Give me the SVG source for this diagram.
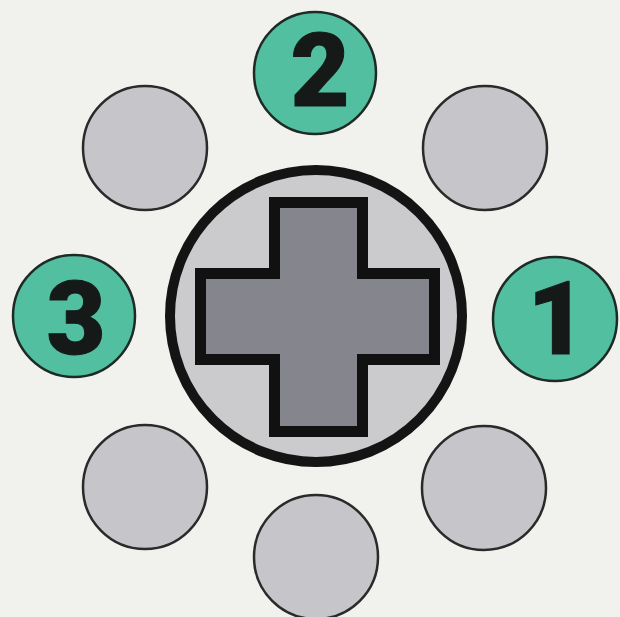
<svg xmlns="http://www.w3.org/2000/svg" width="620" height="617" viewBox="0 0 620 617">
<style>
.bg{fill:#f1f1ed}
.small{fill:#c6c6ca;stroke:#2a2a2a;stroke-width:2.5}
.num{fill:#52c0a0;stroke:#1e2a26;stroke-width:2.5}
.digit{font-family:Roboto,"Liberation Sans",Arial,sans-serif;font-weight:900;font-size:102px;fill:#151a18;stroke:#151a18;stroke-width:1;stroke-linejoin:round;text-anchor:middle}
</style>
<rect class="bg" x="0" y="0" width="620" height="617"/>
<g id="pad">
<circle cx="316" cy="316" r="146" fill="#cbcbcd" stroke="#141414" stroke-width="10"/>
<path d="M274.5,202.5 H362.5 V273.5 H434.5 V359.5 H362.5 V431.5 H274.5 V359.5 H200.5 V273.5 H274.5 Z" fill="#85858e" stroke="#111" stroke-width="11" stroke-linejoin="miter"/>
</g>
<g id="btn-2">
<circle class="num" cx="315" cy="73" r="61"/>
<text class="digit" x="320" y="106">2</text>
</g>
<g id="btn-tl"><circle class="small" cx="145" cy="148" r="62"/></g>
<g id="btn-tr"><circle class="small" cx="485" cy="148" r="62"/></g>
<g id="btn-3">
<circle class="num" cx="74" cy="316" r="61"/>
<text class="digit" x="76" y="354">3</text>
</g>
<g id="btn-1">
<circle class="num" cx="555" cy="319" r="62"/>
<text class="digit" x="557" y="354">1</text>
</g>
<g id="btn-bl"><circle class="small" cx="145" cy="487" r="62"/></g>
<g id="btn-br"><circle class="small" cx="484" cy="488" r="62"/></g>
<g id="btn-b"><circle class="small" cx="316" cy="557" r="62"/></g>
<g id="connectors"></g>
</svg>
